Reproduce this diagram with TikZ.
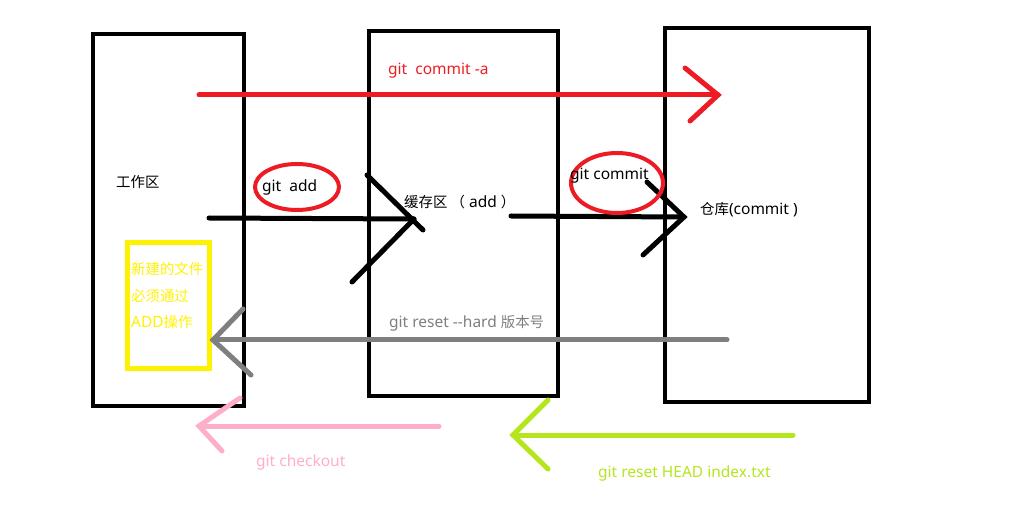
\documentclass[tikz,border=0pt]{standalone}
\usepackage{fontspec}
\setmainfont{Noto Sans}
\newfontfamily\cjk[Scale=0.93]{Noto Sans CJK SC}
\definecolor{cred}{HTML}{ED1C24}
\definecolor{cgray}{HTML}{7F7F7F}
\definecolor{cpink}{HTML}{FFAEC9}
\definecolor{cgreen}{HTML}{B5E61D}
\definecolor{cyel}{HTML}{FFF200}
\begin{document}
\begin{tikzpicture}[x=1pt,y=-1pt,
  zone/.style={draw=black,line width=4.5pt},
  shaft/.style={line width=5pt,line cap=round},
  lbl/.style={inner sep=0pt,anchor=west,font=\fontsize{15.5}{17}\selectfont}]
\useasboundingbox[fill=white] (0,0) rectangle (1018,521);
% zones
\draw[zone] (93,34) rectangle (244,406);
\draw[zone] (369,31) rectangle (558,396);
\draw[zone] (665,28) rectangle (869,402);
\node[lbl] (wa) at (116,182) {\cjk 工作区};
\node[lbl] (st) at (404,202) {{\cjk 缓存区 （} add {\cjk ）}};
\node[lbl] (repo) at (700,210) {{\cjk 仓库}(commit )};
% yellow note
\draw[draw=cyel,line width=5pt] (127,243) rectangle (209,369);
\node[lbl,text=cyel] (n1) at (131,269) {\cjk 新建的文件};
\node[lbl,text=cyel] (n2) at (131,296) {\cjk 必须通过};
\node[lbl,text=cyel] (n3) at (131,322) {ADD{\cjk 操作}};
% red commit -a
\coordinate (ra) at (199,95);
\coordinate (rb) at (718,95);
\draw[shaft,cred] (ra) -- (rb);
\draw[shaft,cred] (685,68) -- (rb) -- (690,121);
\node[lbl,text=cred] (rl) at (388,71) {git\ \ commit -a};
% git add
\coordinate (aa) at (209,218);
\coordinate (ab) at (414,219);
\draw[shaft,black] (aa) -- (ab);
\draw[shaft,black] (367,175) -- (423,230);
\draw[shaft,black] (ab) -- (352,282);
\draw[draw=cred,line width=4pt] (297,187) ellipse [x radius=42,y radius=23];
\node[lbl] (al) at (262,187) {git\ \ add};
% git commit
\coordinate (ca) at (511,216);
\coordinate (cb) at (684,217);
\draw[shaft,black] (ca) -- (cb);
\draw[shaft,black] (647,182) -- (cb) -- (643,255);
\draw[draw=cred,line width=4pt] (617,183) ellipse [x radius=46,y radius=30];
\node[lbl] (cl) at (570,176) {git commit};
% gray reset --hard
\coordinate (ga) at (727,340);
\coordinate (gb) at (213,340);
\draw[shaft,cgray] (ga) -- (gb);
\draw[shaft,cgray] (243,309) -- (gb) -- (251,375);
\node[lbl,text=cgray] (gl) at (389,323) {git reset {-}{-}hard {\cjk 版本号}};
% pink checkout
\coordinate (pa) at (439,426);
\coordinate (pb) at (199,426);
\draw[shaft,cpink] (pa) -- (pb);
\draw[shaft,cpink] (240,398) -- (pb) -- (222,451);
\node[lbl,text=cpink] (pl) at (256,462) {git checkout};
% green reset HEAD
\coordinate (la) at (793,435);
\coordinate (lb) at (513,435);
\draw[shaft,cgreen] (la) -- (lb);
\draw[shaft,cgreen] (548,400) -- (lb) -- (548,469);
\node[lbl,text=cgreen] (ll) at (598,473) {git reset HEAD index.txt};
\end{tikzpicture}
\end{document}
